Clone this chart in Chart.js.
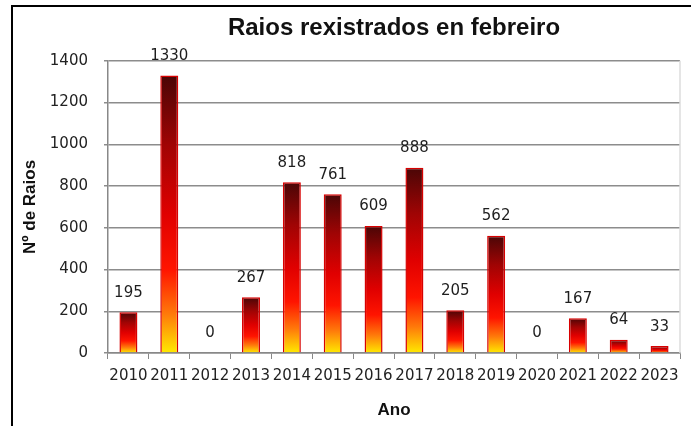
<!DOCTYPE html>
<html>
<head>
<meta charset="utf-8">
<title>Raios rexistrados en febreiro</title>
<script src="https://cdn.jsdelivr.net/npm/chart.js@4/dist/chart.umd.min.js"></script>
<style>
  html, body { margin: 0; padding: 0; background: #fff; }
  #wrap { position: relative; width: 691px; height: 426px; overflow: hidden; }
  #frame {
    position: absolute; left: 11px; top: 5px; width: 700px; height: 440px;
    border-top: 2px solid #000; border-left: 2px solid #000;
    pointer-events: none;
  }
  canvas { position: absolute; left: 0; top: 0; }
</style>
</head>
<body>
<div id="wrap">
  <canvas id="raiosChart" width="691" height="426"></canvas>
  <div id="frame"></div>
</div>
<script>
// Datos do gráfico
const anos = ['2010', '2011', '2012', '2013', '2014', '2015', '2016', '2017', '2018', '2019', '2020', '2021', '2022', '2023'];
const raios = [195, 1330, 0, 267, 818, 761, 609, 888, 205, 562, 0, 167, 64, 33];
const yTicks = [0, 200, 400, 600, 800, 1000, 1200, 1400];

const numFont = { family: 'DejaVu Sans', size: 15 };

// degradado de cada barra: escuro arriba, amarelo abaixo
function barFill(ctx) {
  const chart = ctx.chart;
  if (!chart.chartArea || ctx.type !== 'data') return '#e00000';
  const y = chart.scales.y;
  const top = y.getPixelForValue(ctx.parsed.y);
  const bottom = y.getPixelForValue(0);
  if (!(bottom - top > 0)) return '#e00000';
  const g = chart.ctx.createLinearGradient(0, top, 0, bottom);
  g.addColorStop(0, '#4a0606');
  g.addColorStop(0.25, '#a00404');
  g.addColorStop(0.5, '#e00000');
  g.addColorStop(0.7, '#ff1400');
  g.addColorStop(0.86, '#ff7a0a');
  g.addColorStop(1, '#ffea00');
  return g;
}

// valores enriba das barras
const valueLabels = {
  id: 'valueLabels',
  afterDatasetsDraw(chart) {
    const c = chart.ctx;
    const meta = chart.getDatasetMeta(0);
    c.save();
    c.font = numFont.size + 'px ' + numFont.family;
    c.fillStyle = '#1e1e1e';
    c.textAlign = 'center';
    c.textBaseline = 'bottom';
    meta.data.forEach((bar, i) => {
      c.fillText(String(raios[i]), bar.x, bar.y - 12);
    });
    c.restore();
  }
};

// liña dereita da área do gráfico
const plotBorder = {
  id: 'plotBorder',
  beforeDatasetsDraw(chart) {
    const a = chart.chartArea;
    const c = chart.ctx;
    c.save();
    c.strokeStyle = '#dcdcdc';
    c.lineWidth = 1.5;
    c.beginPath();
    c.moveTo(a.right, a.top);
    c.lineTo(a.right, a.bottom);
    c.stroke();
    c.restore();
  }
};

new Chart(document.getElementById('raiosChart'), {
  type: 'bar',
  data: {
    labels: anos,
    datasets: [{
      data: raios,
      backgroundColor: barFill,
      borderColor: '#d80000',
      borderWidth: 1.5,
      borderSkipped: 'start',
      categoryPercentage: 0.44,
      barPercentage: 1
    }]
  },
  options: {
    responsive: false,
    animation: false,
    layout: { padding: { left: 0, right: 11, top: 0, bottom: 0 } },
    plugins: {
      legend: { display: false },
      tooltip: { enabled: false },
      title: {
        display: true,
        fullSize: false,
        text: 'Raios rexistrados en febreiro',
        color: '#111',
        font: { family: 'Liberation Sans', size: 24, weight: 'bold' },
        padding: { top: 14, bottom: 18 }
      }
    },
    scales: {
      x: {
        grid: { display: true, drawOnChartArea: false, offset: true, color: '#888', tickLength: 6 },
        border: { color: '#888', width: 1.5 },
        ticks: { color: '#222', font: numFont, padding: 8, maxRotation: 0, autoSkip: false },
        title: {
          display: true,
          text: 'Ano',
          color: '#111',
          font: { family: 'Liberation Sans', size: 17, weight: 'bold' },
          padding: { top: 12, bottom: 5 }
        },
        afterFit(scale) { scale.height = 73; }
      },
      y: {
        min: 0,
        max: 1400,
        afterBuildTicks(scale) { scale.ticks = yTicks.map(v => ({ value: v })); },
        grid: { color: '#8c8c8c', lineWidth: 1.5, tickLength: 4 },
        border: { color: '#888', width: 1.5 },
        ticks: {
          color: '#222',
          font: numFont,
          padding: 16,
          callback: (v) => String(v)
        },
        title: {
          display: true,
          text: 'Nº de Raios',
          color: '#111',
          font: { family: 'Liberation Sans', size: 17, weight: 'bold' },
          padding: { top: 20, bottom: 4 }
        },
        afterFit(scale) { scale.width = 108; }
      }
    }
  },
  plugins: [valueLabels, plotBorder]
});
</script>
</body>
</html>
